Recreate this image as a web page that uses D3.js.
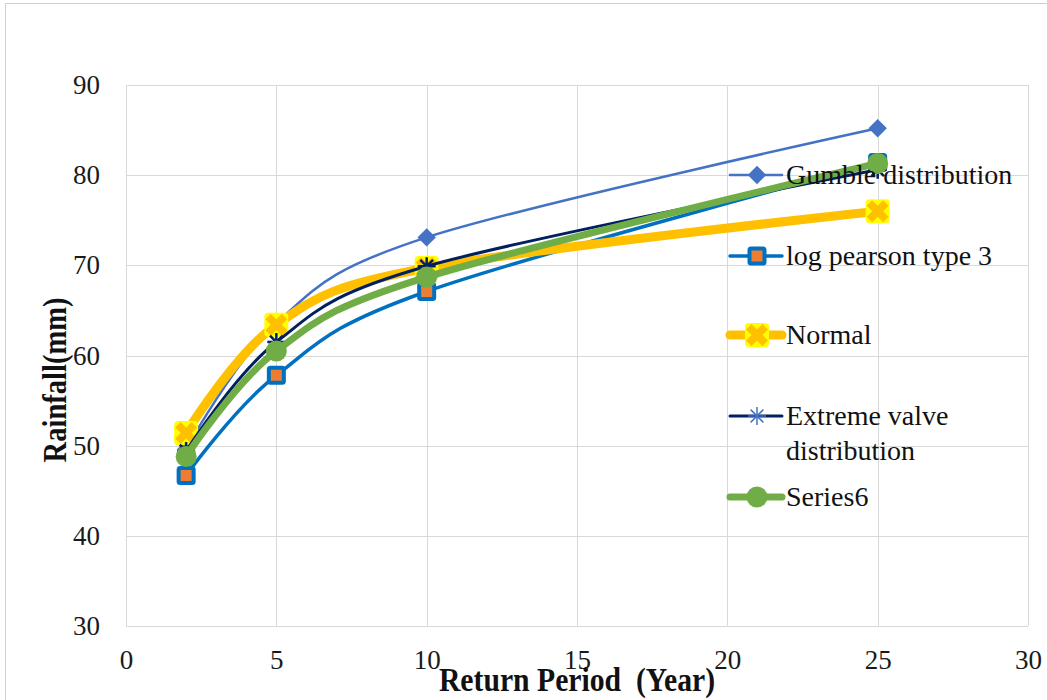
<!DOCTYPE html>
<html>
<head>
<meta charset="utf-8">
<script src="https://cdn.jsdelivr.net/npm/d3@7"></script>
</head>
<body style="margin:0;background:#fff">
<svg id="chart" width="1047" height="700" style="display:block"></svg>
<script>
// Return periods (years) and design rainfall (mm) for each distribution
const returnPeriods = [2, 5, 10, 25];
const gumble      = [49.6, 63.6, 73.1, 85.2];
const logPearson3 = [46.7, 57.8, 67.1, 81.4];
const normal      = [51.4, 63.4, 69.7, 76.0];
const extremeValue = [49.4, 61.5, 69.9, 80.6];
const series6     = [48.8, 60.5, 68.7, 81.3];

const seriesNames = ["Gumble distribution", "log pearson type 3", "Normal",
                     "Extreme valve distribution", "Series6"];
const xTicks = [0, 5, 10, 15, 20, 25, 30];
const yTicks = [30, 40, 50, 60, 70, 80, 90];

const FONT = '"Liberation Serif", "Times New Roman", Tinos, serif';
const svg = d3.select("#chart");
const plot = { left: 126, right: 1028, top: 85, bottom: 626 };

// outer chart frame
svg.append("rect")
  .attr("x", 5.5).attr("y", 3.5).attr("width", 1200).attr("height", 900)
  .attr("fill", "#fff").attr("stroke", "#d0d0d0").attr("stroke-width", 1);

const x = d3.scaleLinear().domain([0, 30]).range([plot.left, plot.right]);
const y = d3.scaleLinear().domain([30, 90]).range([plot.bottom, plot.top]);

// gridlines
const grid = svg.append("g").attr("stroke", "#d9d9d9").attr("stroke-width", 1);
xTicks.forEach(t => grid.append("line")
  .attr("x1", Math.round(x(t)) + 0.5).attr("x2", Math.round(x(t)) + 0.5)
  .attr("y1", plot.top).attr("y2", plot.bottom));
yTicks.forEach(t => grid.append("line")
  .attr("y1", Math.round(y(t)) + 0.5).attr("y2", Math.round(y(t)) + 0.5)
  .attr("x1", plot.left).attr("x2", plot.right));

// axes (tick labels only)
const yAxis = svg.append("g").attr("transform", `translate(${plot.left},0)`)
  .call(d3.axisLeft(y).tickValues(yTicks).tickSize(0).tickPadding(26));
const xAxis = svg.append("g").attr("transform", `translate(0,${plot.bottom})`)
  .call(d3.axisBottom(x).tickValues(xTicks).tickSize(0).tickPadding(24));
[yAxis, xAxis].forEach(a => {
  a.select(".domain").remove();
  a.selectAll("text").attr("font-size", 27).attr("fill", "#1a1a1a")
    .style("font-family", FONT);
});

// axis titles
svg.append("text")
  .attr("transform", "translate(66,380) rotate(-90) scale(0.84,1)")
  .attr("text-anchor", "middle")
  .attr("font-size", 34).attr("font-weight", "bold").attr("fill", "#111")
  .style("font-family", FONT)
  .text("Rainfall(mm)");
svg.append("text")
  .attr("transform", "translate(577,691) scale(0.9,1)")
  .attr("text-anchor", "middle")
  .attr("font-size", 33).attr("font-weight", "bold").attr("fill", "#111")
  .style("font-family", FONT)
  .style("white-space", "pre")
  .text("Return Period  (Year)");

// series styles
const styles = [
  { values: gumble, stroke: "#4472C4", width: 2.5, marker: "diamond" },
  { values: logPearson3, stroke: "#0070C0", width: 3.5, marker: "square" },
  { values: normal, stroke: "#FFC000", width: 9, marker: "cross" },
  { values: extremeValue, stroke: "#002060", width: 3, marker: "star" },
  { values: series6, stroke: "#70AD47", width: 7, marker: "circle" }
];

const line = d3.line()
  .x(d => x(d[0])).y(d => y(d[1]))
  .curve(d3.curveCardinal.tension(0));

function drawMarker(g, type, cx, cy, legend) {
  const m = g.append("g").attr("transform", `translate(${cx},${cy})`);
  if (type === "diamond") {
    m.append("rect").attr("x", -6.5).attr("y", -6.5).attr("width", 13).attr("height", 13)
      .attr("transform", "rotate(45)").attr("fill", "#4472C4");
  } else if (type === "square") {
    m.append("rect").attr("x", -7.5).attr("y", -7.5).attr("width", 15).attr("height", 15)
      .attr("rx", 1.5).attr("fill", "#ED7D31").attr("stroke", "#0070C0").attr("stroke-width", 4);
  } else if (type === "cross") {
    m.append("rect").attr("x", -12).attr("y", -12).attr("width", 24).attr("height", 24)
      .attr("rx", 4).attr("fill", "#FFFF00");
    m.append("path").attr("d", d3.symbol(d3.symbolCross, 300)())
      .attr("transform", "rotate(45)")
      .attr("fill", "#FFC000");
  } else if (type === "star") {
    const r = 9;
    const s = m.append("g").attr("stroke", legend ? "#4472C4" : "#002060")
      .attr("stroke-width", legend ? 1.5 : 2.5);
    [0, 45, 90, 135].forEach(a => {
      const rad = a * Math.PI / 180;
      s.append("line")
        .attr("x1", -r * Math.cos(rad)).attr("y1", -r * Math.sin(rad))
        .attr("x2", r * Math.cos(rad)).attr("y2", r * Math.sin(rad));
    });
  } else if (type === "circle") {
    m.append("circle").attr("r", 10.5).attr("fill", "#70AD47");
  }
}

// lines and markers
styles.forEach(s => {
  const pts = returnPeriods.map((p, i) => [p, s.values[i]]);
  svg.append("path").datum(pts)
    .attr("d", line).attr("fill", "none")
    .attr("stroke", s.stroke).attr("stroke-width", s.width)
    .attr("stroke-linecap", "round").attr("stroke-linejoin", "round");
  const mg = svg.append("g");
  pts.forEach(p => drawMarker(mg, s.marker, x(p[0]), y(p[1]), false));
});

// legend
const legendRows = [
  { y: 175, lines: [seriesNames[0]] },
  { y: 256, lines: [seriesNames[1]] },
  { y: 335, lines: [seriesNames[2]] },
  { y: 416, lines: ["Extreme valve", "distribution"] },
  { y: 497, lines: [seriesNames[4]] }
];
const lg = svg.append("g");
styles.forEach((s, i) => {
  const row = legendRows[i];
  lg.append("line")
    .attr("x1", 730).attr("x2", 782).attr("y1", row.y).attr("y2", row.y)
    .attr("stroke", s.stroke).attr("stroke-width", s.width)
    .attr("stroke-linecap", "round");
  drawMarker(lg, s.marker, 757, row.y, true);
  row.lines.forEach((t, k) => {
    lg.append("text")
      .attr("x", 786).attr("y", row.y + 9 + k * 35)
      .attr("font-size", 28).attr("fill", "#111")
      .style("font-family", FONT)
      .text(t);
  });
});
</script>
</body>
</html>
